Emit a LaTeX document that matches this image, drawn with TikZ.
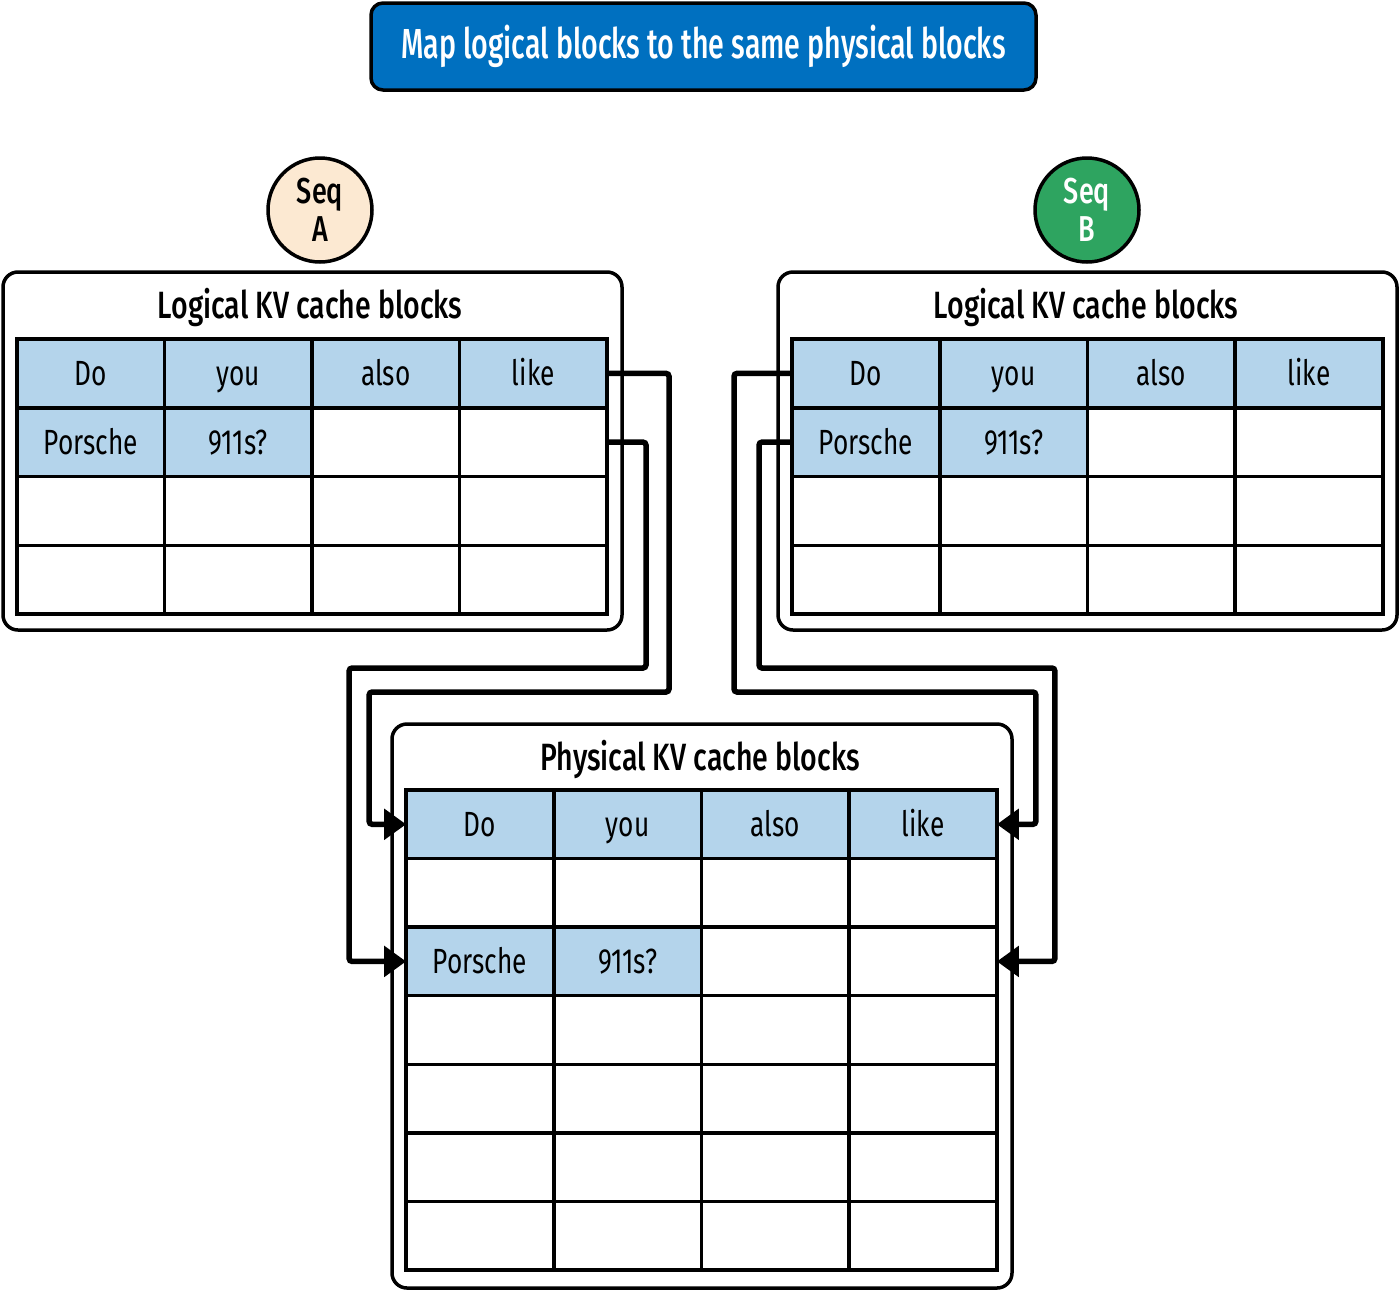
\documentclass[tikz,border=0pt]{standalone}
\usepackage{fontspec}
\setmainfont{Fira Sans}[FakeStretch=0.75]
\newfontfamily\medfont{Fira Sans Medium}[FakeStretch=0.75]
\newfontfamily\titlefont{Fira Sans Medium}[FakeStretch=0.68]
\usetikzlibrary{arrows.meta}
\definecolor{titleblue}{RGB}{0,112,192}
\definecolor{peach}{RGB}{252,233,210}
\definecolor{seqgreen}{RGB}{46,164,96}
\definecolor{cellblue}{RGB}{180,212,235}
\begin{document}
\begin{tikzpicture}[x=1pt,y=-1pt,
  panel/.style={draw, line width=3.5pt, rounded corners=15pt, inner sep=0pt, outer sep=0pt},
  cellbox/.style={draw, line width=3.5pt, inner sep=0pt, outer sep=0pt, minimum width=147.5pt, text height=32pt, text depth=8pt, font=\fontsize{35}{40}\selectfont},
  head/.style={font=\medfont\fontsize{38}{42}\selectfont, anchor=base, inner sep=0pt},
  seq/.style={circle, draw, line width=3.5pt, minimum size=104pt, inner sep=0pt, align=center, font=\medfont\fontsize{36}{38}\selectfont},
  conn/.style={line width=5.5pt, rounded corners=3pt, -{Triangle[length=22pt,width=30pt]}}
]
\useasboundingbox (0,0) rectangle (1400,1291);

% title
\node[draw, line width=3.5pt, rounded corners=12pt, fill=titleblue, minimum width=665pt, minimum height=87pt, inner sep=0pt, text=white, font=\titlefont\fontsize{42}{46}\selectfont] (title) at (703.5,46.5) {Map logical blocks to the same physical blocks};

% sequence circles
\node[seq, fill=peach] (SA) at (320,210) {Seq\\A};
\node[seq, fill=seqgreen, text=white] (SB) at (1087,210) {Seq\\B};

% panels
\node[panel, minimum width=619pt, minimum height=358pt] (PA) at (312.5,451) {};
\node[panel, minimum width=619pt, minimum height=358pt] (PB) at (1087.5,451) {};
\node[panel, minimum width=620pt, minimum height=564pt] (PP) at (702,1006) {};

\node[head] (HA) at (310,318) {Logical KV cache blocks};
\node[head] (HB) at (1086,318) {Logical KV cache blocks};
\node[head] (HP) at (700,770) {Physical KV cache blocks};

% logical table A
\foreach \r/\c/\t/\f in {1/1/Do/cellblue,1/2/you/cellblue,1/3/also/cellblue,1/4/like/cellblue,
  2/1/Porsche/cellblue,2/2/911s?/cellblue,2/3//white,2/4//white,
  3/1//white,3/2//white,3/3//white,3/4//white,4/1//white,4/2//white,4/3//white,4/4//white}
  \node[cellbox, minimum height=68.75pt, fill=\f] (A\r\c) at ({17+147.5*(\c-0.5)},{339+68.75*(\r-0.5)}) {\t};

% logical table B
\foreach \r/\c/\t/\f in {1/1/Do/cellblue,1/2/you/cellblue,1/3/also/cellblue,1/4/like/cellblue,
  2/1/Porsche/cellblue,2/2/911s?/cellblue,2/3//white,2/4//white,
  3/1//white,3/2//white,3/3//white,3/4//white,4/1//white,4/2//white,4/3//white,4/4//white}
  \node[cellbox, minimum height=68.75pt, fill=\f] (B\r\c) at ({792+147.75*(\c-0.5)},{339+68.75*(\r-0.5)}) {\t};

% physical table
\foreach \r/\c/\t/\f in {1/1/Do/cellblue,1/2/you/cellblue,1/3/also/cellblue,1/4/like/cellblue,
  2/1//white,2/2//white,2/3//white,2/4//white,
  3/1/Porsche/cellblue,3/2/911s?/cellblue,3/3//white,3/4//white,
  4/1//white,4/2//white,4/3//white,4/4//white,
  5/1//white,5/2//white,5/3//white,5/4//white,
  6/1//white,6/2//white,6/3//white,6/4//white,
  7/1//white,7/2//white,7/3//white,7/4//white}
  \node[cellbox, minimum height=68.57pt, fill=\f] (P\r\c) at ({406+147.75*(\c-0.5)},{790+68.57*(\r-0.5)}) {\t};

% connectors
\draw[conn] (A14.east) -| (669,692) -| ([xshift=-37pt]P11.west) -- (P11.west);
\draw[conn] (A24.east) -| (646,668) -| ([xshift=-57pt]P31.west) -- (P31.west);
\draw[conn] (B11.west) -| (734,692) -| ([xshift=39pt]P14.east) -- (P14.east);
\draw[conn] (B21.west) -| (759,668) -| ([xshift=58pt]P34.east) -- (P34.east);
\end{tikzpicture}
\end{document}
